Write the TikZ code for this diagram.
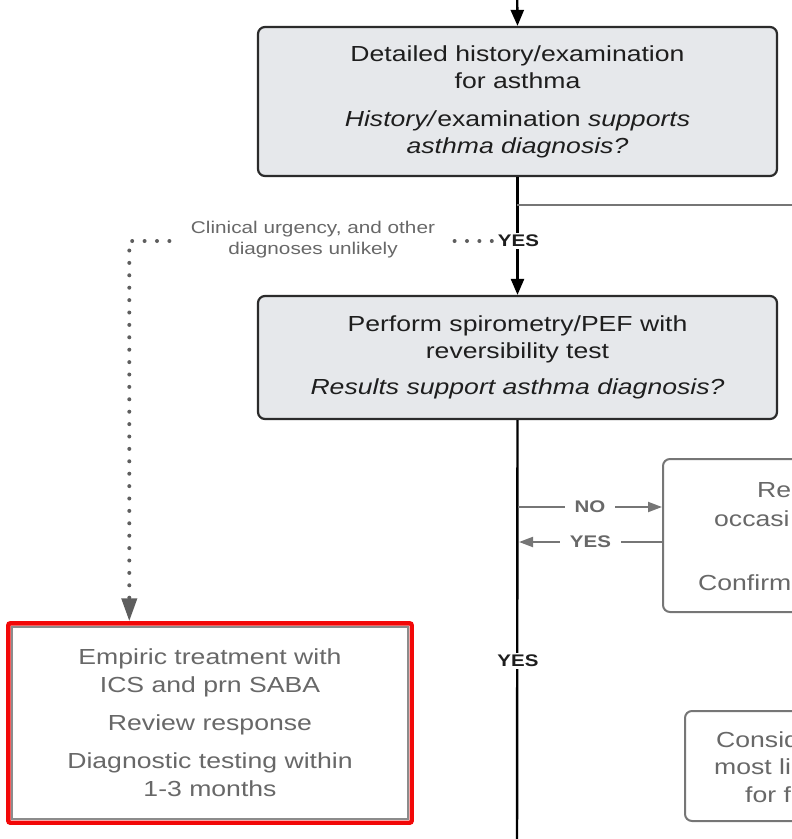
\documentclass[tikz,border=0pt]{standalone}
\usepackage{fontspec}
\setmainfont{Liberation Sans}[FakeStretch=1.22]
\usetikzlibrary{arrows.meta,calc}

\definecolor{boxfill}{HTML}{E6E8EB}
\definecolor{boxline}{HTML}{2B2B2B}
\definecolor{inktext}{HTML}{1E1E1E}
\definecolor{softline}{HTML}{767676}
\definecolor{softtext}{HTML}{686868}
\definecolor{dotgrey}{HTML}{5E5E5E}
\definecolor{frameline}{HTML}{8C8C8C}
\definecolor{flagred}{HTML}{F20808}

\begin{document}
\begin{tikzpicture}[x=1pt,y=-1pt,
  mainbox/.style={draw=boxline,line width=2.2pt,fill=boxfill,rounded corners=7pt,
    inner sep=0pt,text=inktext,align=center,font=\fontsize{21.8}{27}\selectfont},
  sidebox/.style={draw=softline,line width=2pt,fill=white,rounded corners=7pt,inner sep=0pt},
  emptbox/.style={draw=frameline,line width=1.4pt,fill=white,inner sep=0pt,
    text=softtext,align=center,font=\fontsize{21.8}{28}\selectfont},
  sidetext/.style={inner sep=0pt,anchor=base west,text=softtext,font=\fontsize{21.8}{27}\selectfont},
  flow/.style={draw=black,line width=2.4pt,-{Triangle[length=16pt,width=13pt]}},
  trunk/.style={draw=black,line width=2.4pt},
  softconn/.style={draw=softline,line width=2pt},
  softflow/.style={draw=softline,line width=2pt,-{Triangle[length=14pt,width=10pt]}},
  dotconn/.style={draw=dotgrey,line width=4pt,line cap=round,dash pattern=on 0pt off 12.4pt,
    -{Triangle[length=23pt,width=15pt,line cap=butt]}},
  yeslab/.style={fill=white,inner xsep=6pt,inner ysep=2pt,text=inktext,
    font=\bfseries\fontsize{16.8}{20}\selectfont},
  greylab/.style={fill=white,inner xsep=10pt,inner ysep=2pt,text=softtext,
    font=\bfseries\fontsize{16.8}{20}\selectfont},
  notelab/.style={fill=white,inner xsep=12pt,inner ysep=2pt,text=softtext,align=center,
    font=\fontsize{17}{21}\selectfont}
]
\useasboundingbox (0,0) rectangle (792,839);
\clip (0,0) rectangle (792,839);

% boxes of the main column
\node[mainbox,minimum width=519pt,minimum height=149pt] (hist) at (517.5,101.5)
  {Detailed history/examination\\for asthma\\[11pt]
   \textit{History/}examination \textit{supports}\\\textit{asthma diagnosis?}};
\node[mainbox,minimum width=519pt,minimum height=123pt] (spiro) at (517.5,357.5)
  {Perform spirometry/PEF with\\reversibility test\\[9pt]
   \textit{Results support asthma diagnosis?}};

% boxes on the right
\node[sidebox,minimum width=337pt,minimum height=153pt] (repeat) at (831.5,535.5) {};
\node[sidetext] (rp1) at (757,497) {Rep};
\node[sidetext] (rp2) at (714,526) {occasi};
\node[sidetext] (rp3) at (698,590) {Confirm};

\node[sidebox,minimum width=300pt,minimum height=110pt] (consider) at (835,766) {};
\node[sidetext] (cs1) at (716,747) {Consid};
\node[sidetext] (cs2) at (714,774) {most li};
\node[sidetext] (cs3) at (745,802) {for f};

% empiric treatment box with its red frame
\node[emptbox,minimum width=396pt,minimum height=192pt] (empiric) at (210,723)
  {Empiric treatment with\\ICS and prn SABA\\[10pt]
   Review response\\[10pt]
   Diagnostic testing within\\1-3 months};
\draw[flagred,line width=4.4pt,rounded corners=2pt]
  ($(empiric.north west)+(-3pt,3pt)$) rectangle ($(empiric.south east)+(3pt,-3pt)$);

% connectors of the main column
\coordinate (topin) at (517,-20);
\coordinate (botout) at (517,860);
\draw[flow] (topin) -- (hist.north);
\draw[flow] (hist.south) -- (spiro.north);
\draw[trunk] (spiro.south) -- (botout);

\coordinate (branch) at (517,205);
\coordinate (branchout) at (820,205);
\draw[softconn] (branch) -- (branchout);

\node[yeslab] (yes1) at (518.5,241) {YES};
\node[yeslab] (yes2) at (518,661) {YES};

% side loop to the repeat box
\coordinate (noS) at (518,507);
\coordinate (yesS) at (519,542);
\draw[softflow] (noS) -- (noS -| repeat.west) node[greylab,midway] (nolab) {NO};
\draw[softflow] (yesS -| repeat.west) -- (yesS) node[greylab,midway] (yeslab3) {YES};

% dotted shortcut to empiric treatment
\draw[dotconn,shorten >=5pt] (yes1.west) -| ([xshift=118pt]empiric.north west);
\node[notelab] (urgent) at (313,239.5) {Clinical urgency, and other\\diagnoses unlikely};
\end{tikzpicture}
\end{document}
